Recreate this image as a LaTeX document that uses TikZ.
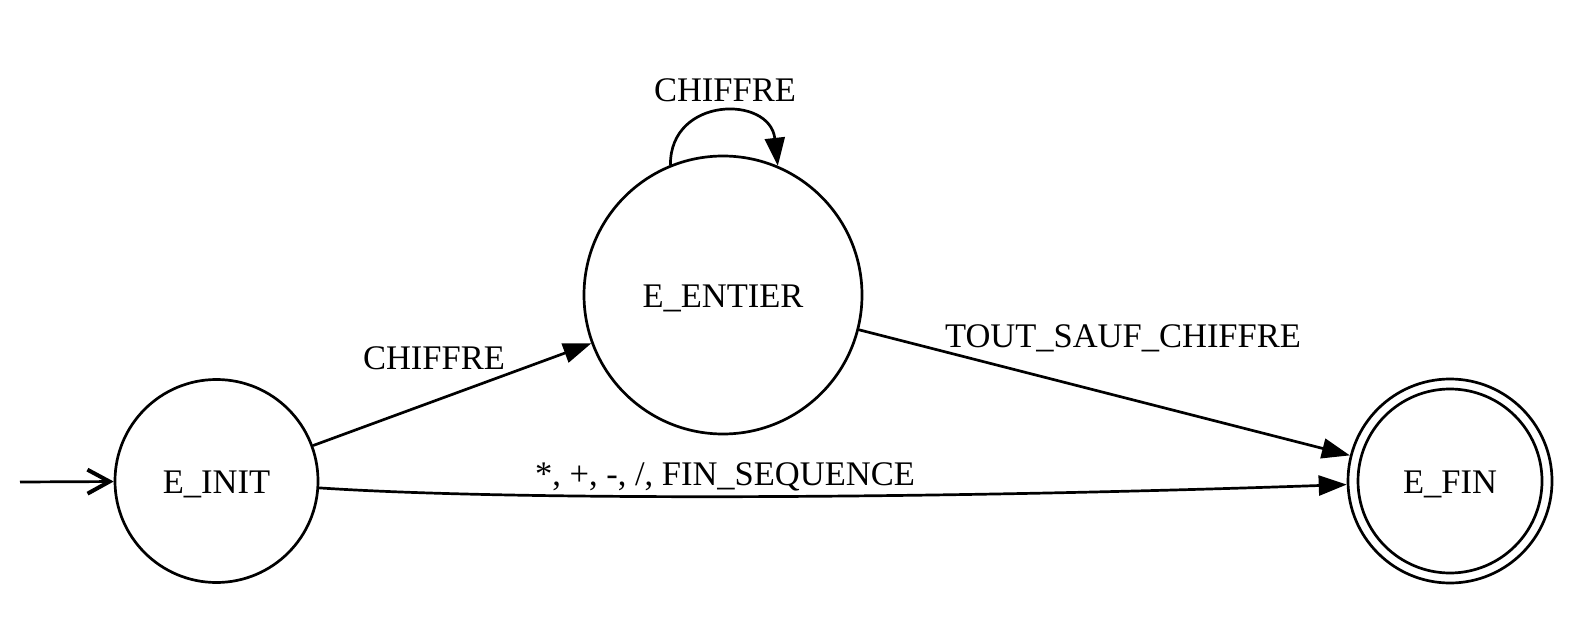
\documentclass[tikz,border=0pt]{standalone}
\usepackage{fontspec}
\setmainfont{Liberation Serif}
\usetikzlibrary{arrows.meta}
\begin{document}
\begin{tikzpicture}[x=1pt,y=-1pt,
  txt/.style={font=\fontsize{34.5}{40}\selectfont},
  state/.style={circle, draw, line width=2.7pt, inner sep=0pt, txt, text height=24pt, text depth=0pt},
  edge/.style={line width=2.7pt, -{Triangle[length=28pt,width=20pt]}},
  initarrow/.style={line width=2.7pt, -{Straight Barb[length=22pt,width=24pt,line width=4pt]}},
  lbl/.style={txt, anchor=base, inner sep=0pt}
]
\useasboundingbox (0,0) rectangle (1581,631);
% states
\node[state, minimum size=203pt] (init) at (216.5,481) {E\_INIT};
\node[state, minimum size=278pt] (entier) at (723,295) {E\_ENTIER};
\node[state, minimum size=204pt] (fin) at (1450,481) {E\_FIN};
\draw[line width=2.7pt] (fin.center) circle[radius=92pt];
% initial arrow
\coordinate (start) at (20,482);
\draw[initarrow] (start) -- (init);
% edges
\draw[edge] (init) -- (entier);
\draw[edge] (entier) -- (fin);
\draw[edge] (init) .. controls (500,500) and (900,500) .. (fin);
\draw[edge] (entier.112) .. controls (670,96) and (770,95) .. (entier.67);
% labels
\node[lbl] (l1) at (434,369) {CHIFFRE};
\node[lbl] (l2) at (725,102) {CHIFFRE};
\node[lbl] (l3) at (1123,347) {TOUT\_SAUF\_CHIFFRE};
\node[lbl] (l4) at (725,485) {*, +, -, /, FIN\_SEQUENCE};
\end{tikzpicture}
\end{document}
